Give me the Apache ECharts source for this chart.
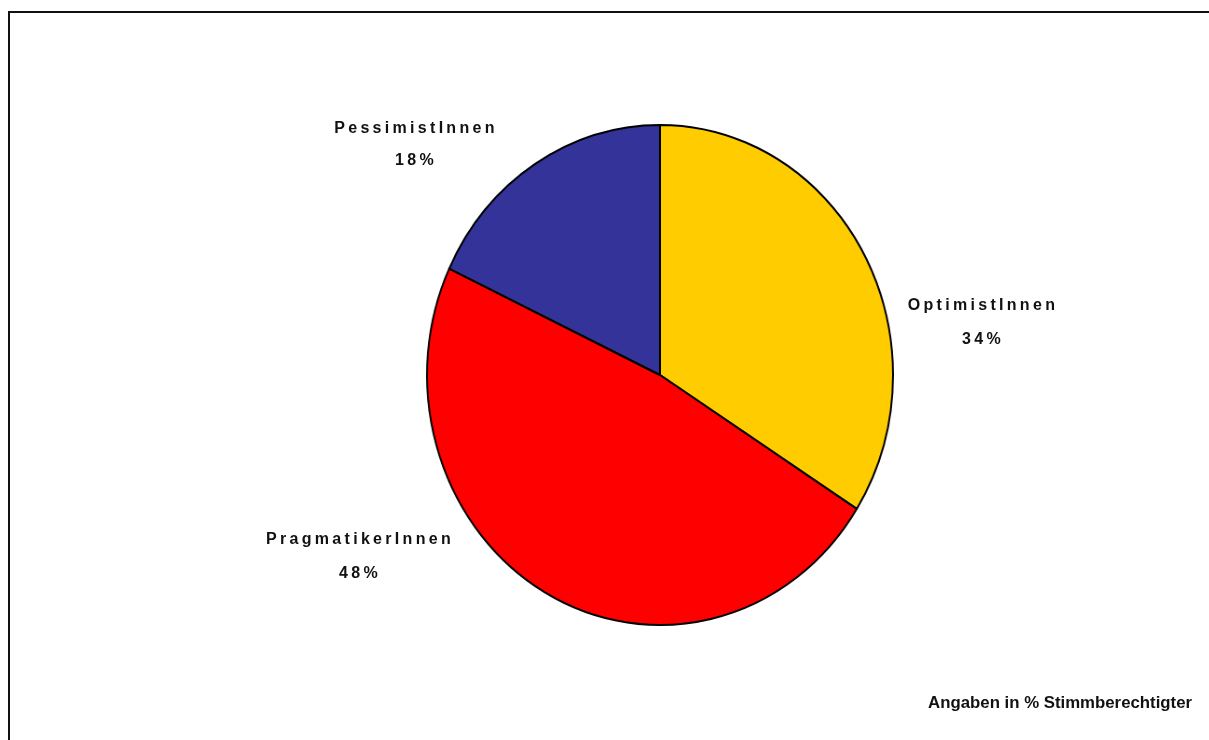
<!DOCTYPE html>
<html>
<head>
<meta charset="utf-8">
<script src="https://cdn.jsdelivr.net/npm/echarts@6/dist/echarts.min.js"></script>
<style>
  html, body { margin: 0; padding: 0; background: #fff; }
  #wrap { position: relative; width: 1209px; height: 740px; overflow: hidden; }
  #pie, #labels, #frame { position: absolute; left: 0; top: 0; width: 1209px; height: 740px; }
  /* the pie is drawn slightly narrower than tall */
  #pie { transform: scaleX(0.932); transform-origin: 660px 375px; }
  #labels, #frame { pointer-events: none; }
  /* slice labels are widely tracked */
  #labels text { letter-spacing: 3.3px; }
</style>
</head>
<body>
<div id="wrap">
  <div id="pie"></div>
  <div id="frame"></div>
  <div id="labels"></div>
</div>
<script>
// Survey groups and their shares (percent)
const categories = ['OptimistInnen', 'PragmatikerInnen', 'PessimistInnen'];
const values = [34, 48, 18];
const colors = ['#FFCC00', '#FF0000', '#333399'];
const note = 'Angaben in % Stimmberechtigter';

// label placement per group: [center x, name y, percent y]
const labelPos = [[983, 304, 338], [360, 538, 572], [416, 127, 159]];

const pieChart = echarts.init(document.getElementById('pie'), null, { renderer: 'canvas' });
pieChart.setOption({
  animation: false,
  series: [{
    type: 'pie',
    center: [660, 375],
    radius: 250,
    startAngle: 90,
    clockwise: true,
    label: { show: false },
    labelLine: { show: false },
    emphasis: { disabled: true },
    itemStyle: { borderColor: '#000', borderWidth: 2 },
    data: categories.map((name, i) => ({
      name: name,
      value: values[i],
      itemStyle: { color: colors[i] }
    }))
  }]
});

// outer frame and source note
const frameChart = echarts.init(document.getElementById('frame'), null, { renderer: 'canvas' });
frameChart.setOption({
  animation: false,
  graphic: [{
    type: 'rect',
    shape: { x: 9, y: 12, width: 1260, height: 800 },
    style: { fill: 'none', stroke: '#111', lineWidth: 2 }
  }, {
    type: 'text', x: 1192, y: 703,
    style: { text: note, fill: '#111', align: 'right', verticalAlign: 'middle',
             fontFamily: 'Liberation Sans, Arial, sans-serif', fontWeight: 'bold', fontSize: 16.8 }
  }]
});

// slice labels: name and share
const labelChart = echarts.init(document.getElementById('labels'), null, { renderer: 'svg' });
const labelFont = { fontFamily: 'Liberation Sans, Arial, sans-serif', fontWeight: 'bold', fontSize: 16, fill: '#111',
                    align: 'center', verticalAlign: 'middle' };
const labelGraphics = [];
categories.forEach((name, i) => {
  const [cx, ny, py] = labelPos[i];
  labelGraphics.push({ type: 'text', x: cx, y: ny, style: Object.assign({ text: name }, labelFont) });
  labelGraphics.push({ type: 'text', x: cx, y: py, style: Object.assign({ text: values[i] + '%' }, labelFont) });
});
labelChart.setOption({ animation: false, graphic: labelGraphics });
</script>
</body>
</html>
